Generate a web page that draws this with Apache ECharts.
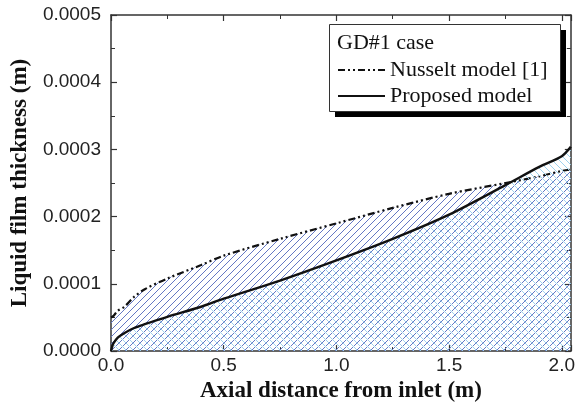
<!DOCTYPE html>
<html>
<head>
<meta charset="utf-8">
<script src="https://cdn.jsdelivr.net/npm/echarts@6/dist/echarts.min.js"></script>
<style>html,body{margin:0;padding:0;background:#fff}#c{width:578px;height:408px}</style>
</head>
<body>
<div id="c"></div>
<script>
var xNusselt = [0, 0.01, 0.03, 0.06, 0.1, 0.15, 0.25, 0.4, 0.5, 0.75, 1.0, 1.25, 1.5, 1.75, 1.9, 2.0, 2.04];
var yNusselt = [0.000050, 0.000052, 0.000060, 0.000066, 0.000080, 0.000092, 0.000108, 0.000128, 0.000142, 0.000167, 0.000190, 0.000213, 0.000234, 0.000250, 0.000260, 0.000268, 0.000270];
var xProposed = [0, 0.005, 0.01, 0.03, 0.06, 0.1, 0.15, 0.25, 0.4, 0.5, 0.75, 1.0, 1.25, 1.5, 1.75, 1.9, 2.0, 2.04];
var yProposed = [0, 0.000006, 0.000011, 0.000020, 0.000027, 0.000034, 0.000040, 0.000051, 0.000066, 0.000078, 0.000105, 0.000135, 0.000167, 0.000203, 0.000247, 0.000274, 0.000290, 0.000304];
var seriesNames = ['Nusselt model [1]', 'Proposed model'];
var legendTitle = 'GD#1 case';
var xTitle = 'Axial distance from inlet (m)';
var yTitle = 'Liquid film thickness (m)';

function pairs(xs, ys) { return xs.map(function (x, i) { return [x, ys[i]]; }); }

function hatch(color, dir) {
  var s = 7, c = document.createElement('canvas');
  c.width = s; c.height = s;
  var g = c.getContext('2d');
  g.strokeStyle = color; g.lineWidth = 1;
  g.beginPath();
  if (dir > 0) {
    g.moveTo(-1, s + 1); g.lineTo(s + 1, -1);
    g.moveTo(-1, 1); g.lineTo(1, -1);
    g.moveTo(s - 1, s + 1); g.lineTo(s + 1, s - 1);
  } else {
    g.moveTo(-1, -1); g.lineTo(s + 1, s + 1);
    g.moveTo(s - 1, -1); g.lineTo(s + 1, 1);
    g.moveTo(-1, s - 1); g.lineTo(1, s + 1);
  }
  g.stroke();
  return { image: c, repeat: 'repeat' };
}

var chart = echarts.init(document.getElementById('c'), null, { renderer: 'canvas' });
var axisLineStyle = { color: '#333', width: 1.5 };
var labelFont = { color: '#222', fontFamily: 'Liberation Sans', fontSize: 19 };
var nameFont = { color: '#111', fontFamily: 'Liberation Serif', fontWeight: 'bold', fontSize: 23 };

function mkAxis(type, pos, extra) {
  var a = {
    type: 'value', position: pos,
    axisLine: { show: true, onZero: false, lineStyle: axisLineStyle },
    axisTick: { show: true, inside: true, length: 6, lineStyle: { color: '#333', width: 1.2 } },
    minorTick: { show: true, splitNumber: 2, length: 4, lineStyle: { color: '#333', width: 1 } },
    splitLine: { show: false }, minorSplitLine: { show: false },
    axisLabel: { show: false }
  };
  return Object.assign(a, extra);
}

chart.setOption({
  animation: false,
  backgroundColor: '#fff',
  grid: { left: 111, right: 2, top: 15, bottom: 51 },
  xAxis: [
    mkAxis('value', 'bottom', {
      min: 0, max: 2.04, interval: 0.5,
      axisLabel: Object.assign({ show: true, margin: 5, showMaxLabel: false, formatter: function (v) { return v.toFixed(1); } }, labelFont),
      name: xTitle, nameLocation: 'middle', nameGap: 21, nameTextStyle: nameFont
    }),
    mkAxis('value', 'top', { min: 0, max: 2.04, interval: 0.5 })
  ],
  yAxis: [
    mkAxis('value', 'left', {
      min: 0, max: 0.0005, interval: 0.0001,
      axisLabel: Object.assign({ show: true, margin: 10, formatter: function (v) { return v.toFixed(4); } }, labelFont),
      name: yTitle, nameLocation: 'middle', nameGap: 70, nameTextStyle: nameFont
    }),
    mkAxis('value', 'right', { min: 0, max: 0.0005, interval: 0.0001 })
  ],
  legend: {
    orient: 'vertical', left: 337, top: 59, z: 20, padding: 0,
    itemWidth: 47, itemHeight: 14, itemGap: 4,
    itemStyle: { opacity: 0 },
    textStyle: { fontFamily: 'Liberation Serif', fontSize: 22, color: '#111' },
    data: seriesNames
  },
  graphic: {
    elements: [{
      type: 'rect', z: 9,
      shape: { x: 335, y: 30, width: 231, height: 87 },
      style: { fill: '#000' }
    }, {
      type: 'rect', z: 10,
      shape: { x: 329.5, y: 24.5, width: 231, height: 87 },
      style: { fill: '#fff', stroke: '#333', lineWidth: 1 }
    }, {
      type: 'text', z: 11, left: 337, top: 32,
      style: { text: legendTitle, fill: '#111', font: '22px "Liberation Serif"' }
    }]
  },
  series: [{
    name: seriesNames[0], type: 'line', xAxisIndex: 0, yAxisIndex: 0,
    data: pairs(xNusselt, yNusselt), smooth: 0.3, showSymbol: false, symbol: 'none',
    lineStyle: { color: '#111', width: 2.2, type: [7, 3, 2, 3, 2, 3] },
    itemStyle: { color: '#111' },
    areaStyle: { color: hatch('#6478c4', 1), opacity: 1 },
    z: 2
  }, {
    name: seriesNames[1], type: 'line', xAxisIndex: 0, yAxisIndex: 0,
    data: pairs(xProposed, yProposed), smooth: 0.3, showSymbol: false, symbol: 'none',
    lineStyle: { color: '#111', width: 2.4 },
    itemStyle: { color: '#111' },
    areaStyle: { color: hatch('#9fd3ee', -1), opacity: 1 },
    z: 3
  }]
});
</script>
</body>
</html>
